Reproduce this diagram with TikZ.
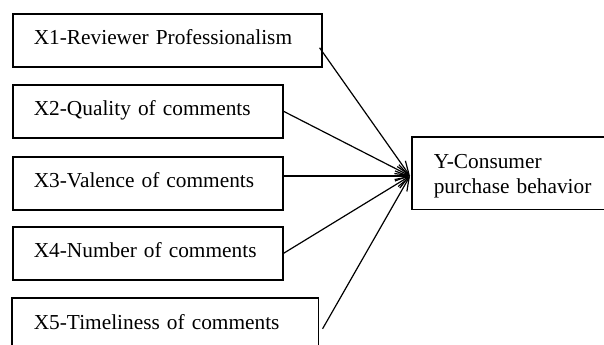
\documentclass[tikz,border=0pt]{standalone}
\usepackage{fontspec}
\setmainfont{Liberation Serif}
\usetikzlibrary{arrows.meta}

\tikzset{
    factor/.style={draw, line width=1.2pt, anchor=north west, align=left,
        inner xsep=15.75pt, inner ysep=0pt,
        text height=23.25pt, text depth=16.5pt,
        font=\fontsize{16}{18.75}\selectfont},
    frame/.style={line width=1.2pt},
    link/.style={line width=0.9pt, -{Straight Barb[length=10pt, width=7.5pt]}}
}

\begin{document}
\begin{tikzpicture}[x=0.75pt, y=-0.75pt]
    \useasboundingbox (0, 0) rectangle (604, 344);

    % 左侧五个自变量,按左上角放置
    \node[factor, text width=200.25pt] (X1) at (12, 13)  {X1-Reviewer Professionalism};
    \node[factor, text width=171pt]    (X2) at (12, 84)  {X2-Quality of comments};
    \node[factor, text width=171pt]    (X3) at (12, 156) {X3-Valence of comments};
    \node[factor, text width=171pt]    (X4) at (12, 226) {X4-Number of comments};
    % X5 下边、Y 右边都在画面以外,只画三条边
    \node[factor, draw=none, text width=197.25pt] (X5) at (12, 298) {X5-Timeliness of comments};
    \draw[frame] (X5.south west) -- (X5.north west) -- (X5.north east) -- (X5.south east);

    \node[factor, draw=none, text width=140pt, text depth=30pt] (Y) at (412, 137)
        {Y-Consumer\\purchase behavior};
    \draw[frame] (Y.north east) -- (Y.north west) -- (Y.south west) -- (Y.south east);

    % 箭头汇聚点
    \coordinate (in) at ([xshift=-1.5pt, yshift=-2pt]Y.west);

    \draw[link] ([xshift=-2.25pt, yshift=-5.6pt]X1.east) -- (in);
    \draw[link] (X2.east) -- (in);
    \draw[link] (X3.east |- in) -- (in);
    \draw[link] (X4.east) -- (in);
    \draw[link] ([xshift=3pt, yshift=-2.6pt]X5.east) -- (in);
\end{tikzpicture}
\end{document}
